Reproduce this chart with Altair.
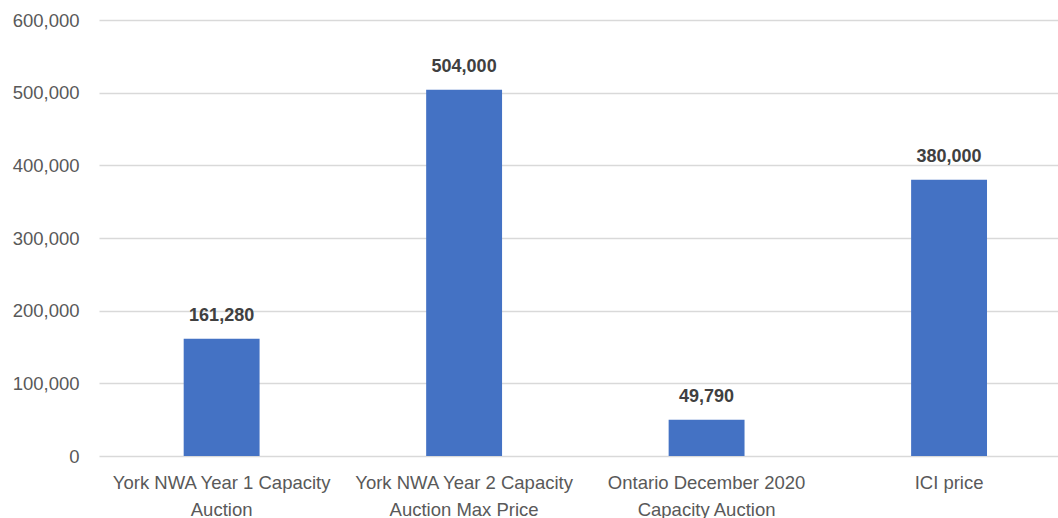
import altair as alt
import pandas as pd

categories = [
    "York NWA Year 1 Capacity|Auction",
    "York NWA Year 2 Capacity|Auction Max Price",
    "Ontario December 2020|Capacity Auction",
    "ICI price",
]
values = [161280, 504000, 49790, 380000]
y_ticks = [0, 100000, 200000, 300000, 400000, 500000, 600000]

df = pd.DataFrame({"cat": categories, "val": values})

FONT = "Liberation Sans"

x = alt.X(
    "cat:N",
    sort=categories,
    title=None,
    scale=alt.Scale(paddingInner=0.687, paddingOuter=0.321, align=0.544),
    axis=alt.Axis(
        labelAngle=0,
        labelExpr="split(datum.label, '|')",
        labelFont=FONT,
        labelFontSize=18.5,
        labelColor="#595959",
        labelLineHeight=27,
        labelPadding=17,
        labelLimit=0,
        ticks=False,
        domain=False,
        grid=False,
    ),
)
y = alt.Y(
    "val:Q",
    title=None,
    scale=alt.Scale(domain=[0, 600000], nice=False),
    axis=alt.Axis(
        values=y_ticks,
        format=",d",
        labelFont=FONT,
        labelFontSize=18.5,
        labelColor="#595959",
        labelPadding=20,
        ticks=False,
        domain=False,
        grid=True,
        gridColor="#d9d9d9",
        gridWidth=1.3,
    ),
)

bars = alt.Chart(df).mark_bar(color="#4472C4").encode(x=x, y=y)
labels = alt.Chart(df).mark_text(
    font=FONT, fontSize=18, fontWeight="bold", color="#404040",
    baseline="alphabetic", dy=-18,
).encode(x=alt.X("cat:N", sort=categories), y="val:Q", text=alt.Text("val:Q", format=",d"))

chart = (
    alt.layer(bars, labels)
    .properties(
        width=959,
        height=436,
        autosize=alt.AutoSizeParams(type="none"),
        padding={"left": 99, "top": 20, "right": 0, "bottom": 62},
        background="white",
    )
    .configure_view(stroke=None)
)

chart.save("out.html", embed_options={"renderer": "svg", "actions": False})
